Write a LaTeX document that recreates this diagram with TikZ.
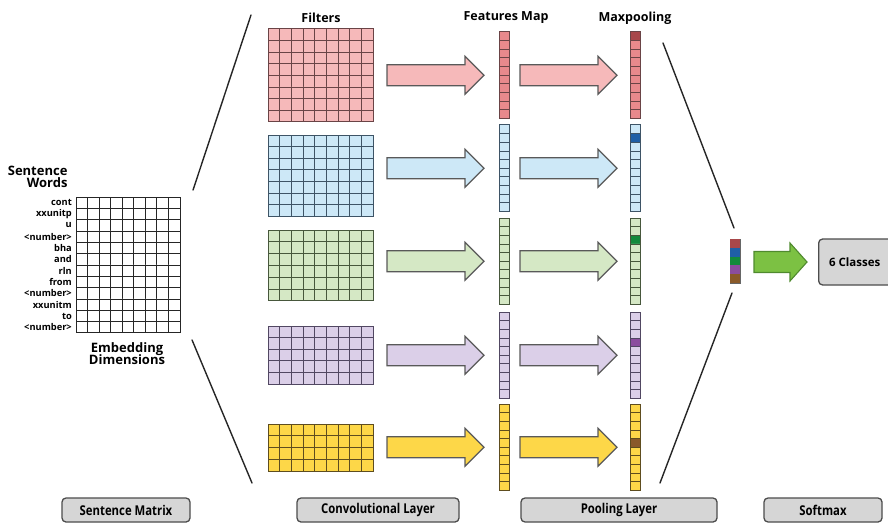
\documentclass[tikz,border=0pt]{standalone}
\usepackage{fontspec}
\setmainfont{Open Sans}
\newfontfamily\narrowsans[FakeStretch=0.84]{Open Sans}
\usetikzlibrary{calc}

% fills and line colours of the five filter groups
\definecolor{redfill}{HTML}{F6B9BA}
\definecolor{redmap}{HTML}{E8898C}
\definecolor{redline}{HTML}{6A4446}
\definecolor{redmax}{HTML}{A8474A}
\definecolor{bluefill}{HTML}{CDE8F7}
\definecolor{blueline}{HTML}{3E5466}
\definecolor{bluemax}{HTML}{1F5FA6}
\definecolor{greenfill}{HTML}{D5E8C5}
\definecolor{greenline}{HTML}{47573C}
\definecolor{greenmax}{HTML}{138A3C}
\definecolor{purplefill}{HTML}{DBCFE8}
\definecolor{purpleline}{HTML}{514762}
\definecolor{purplemax}{HTML}{8B4D9E}
\definecolor{yellowfill}{HTML}{FDD748}
\definecolor{yellowline}{HTML}{5E4D1F}
\definecolor{yellowmax}{HTML}{8A5A2A}
\definecolor{softgreen}{HTML}{7CC143}
\definecolor{softgreenline}{HTML}{4F8A2E}
\definecolor{boxgray}{HTML}{D6D6D6}

\tikzset{
  cellbox/.style={draw, rectangle, inner sep=0pt, outer sep=0pt, line width=1pt},
  cellline/.style={line width=0.9pt},
  redset/.style={fill=redfill, draw=redline},
  redmapset/.style={fill=redmap, draw=redline},
  blueset/.style={fill=bluefill, draw=blueline},
  greenset/.style={fill=greenfill, draw=greenline},
  purpleset/.style={fill=purplefill, draw=purpleline},
  yellowset/.style={fill=yellowfill, draw=yellowline},
  wordset/.style={fill=white, draw=black!85},
  funnel/.style={line width=1.4pt, draw=black!85, line cap=round},
  blockarrow/.style={line width=1.1pt, draw=black!65, line join=miter},
  title/.style={font=\bfseries\fontsize{12.5}{14}\selectfont},
  bigtitle/.style={font=\bfseries\fontsize{13}{15}\selectfont, align=right},
  wordlabel/.style={font=\bfseries\fontsize{9.3}{10}\selectfont, anchor=east, inner sep=0pt},
  layerbox/.style={draw=black!70, line width=1.3pt, fill=boxgray, rounded corners=4pt,
    minimum height=24pt, inner sep=0pt, font=\narrowsans\bfseries\fontsize{13.5}{15}\selectfont},
}

% grid of cells: name, x, y, cols, rows, cell width, cell height, style
\newcommand\cellblock[8]{%
  \node[cellbox, #8, anchor=north west, minimum width={#4*#6}, minimum height={#5*#7}] (#1) at (#2,#3) {};
  \pgfmathtruncatemacro\cbcols{#4-1}%
  \pgfmathtruncatemacro\cbrows{#5-1}%
  \foreach \ci in {1,...,\cbcols}
    \draw[cellline, #8] ($(#1.north west)+(\ci*#6,0)$) -- ($(#1.south west)+(\ci*#6,0)$);
  \foreach \ri in {1,...,\cbrows}
    \draw[cellline, #8] ($(#1.north west)+(0,\ri*#7)$) -- ($(#1.north east)+(0,\ri*#7)$);
  \draw[cellbox, #8, fill=none] (#1.north west) rectangle (#1.south east);
}

% single column of ten cells with one marked cell: name, x, y, style, marked index, marked colour
\newcommand\cellcolumn[6]{%
  \node[cellbox, #4, anchor=north west, minimum width=10, minimum height=86.5] (#1) at (#2,#3) {};
  \ifnum#5>-1
    \fill[#6] ($(#1.north west)+(0,#5*8.65)$) rectangle ++(10,8.65);
  \fi
  \foreach \ri in {1,...,9}
    \draw[cellline, #4] ($(#1.north west)+(0,\ri*8.65)$) -- ($(#1.north east)+(0,\ri*8.65)$);
  \draw[cellbox, #4, fill=none] (#1.north west) rectangle (#1.south east);
}

% block arrow from a start x to a tip x at height y: start, head base, tip, y, style
\newcommand\blockarrow[5]{%
  \draw[blockarrow, #5] (#1,{#4-10.5}) -- (#2,{#4-10.5}) -- (#2,{#4-19}) -- (#3,#4)
    -- (#2,{#4+19}) -- (#2,{#4+10.5}) -- (#1,{#4+10.5}) -- cycle;
}

\begin{document}
\begin{tikzpicture}[x=1pt, y=-1pt]
  \useasboundingbox (0,0) rectangle (888,524);
  \clip (0,0) rectangle (888,524);

  % sentence matrix
  \cellblock{sentence}{76}{197}{9}{12}{11.56}{11.33}{wordset}
  \node[bigtitle, anchor=east] (swords) at (71,177) {Sentence\\[-3pt]Words};
  \foreach \w [count=\k] in {cont,xxunitp,u,<number>,bha,and,rln,from,<number>,xxunitm,to,<number>}
    \node[wordlabel] (word\k) at (72,{197+11.33*(\k-0.5)}) {\w};
  \node[bigtitle, align=center] (embed) at (127,354) {Embedding\\[-3pt]Dimensions};

  % filters
  \node[title] (tfilters) at (321,18) {Filters};
  \cellblock{filt1}{268}{29}{9}{8}{11.67}{11.6}{redset}
  \cellblock{filt2}{268}{135}{9}{7}{11.67}{11.6}{blueset}
  \cellblock{filt3}{268}{230}{9}{6}{11.67}{11.8}{greenset}
  \cellblock{filt4}{268}{326}{9}{5}{11.67}{11.6}{purpleset}
  \cellblock{filt5}{268}{424}{9}{4}{11.67}{11.8}{yellowset}

  % feature maps
  \node[title] (tfeat) at (506,18) {Features Map};
  \cellcolumn{fmap1}{499}{32}{redmapset}{-1}{redmax}
  \cellcolumn{fmap2}{499}{125}{blueset}{-1}{bluemax}
  \cellcolumn{fmap3}{499}{218}{greenset}{-1}{greenmax}
  \cellcolumn{fmap4}{499}{312}{purpleset}{-1}{purplemax}
  \cellcolumn{fmap5}{499}{404}{yellowset}{-1}{yellowmax}

  % max pooling
  \node[title] (tmax) at (635,18) {Maxpooling};
  \cellcolumn{pool1}{630}{32}{redmapset}{0}{redmax}
  \cellcolumn{pool2}{630}{125}{blueset}{1}{bluemax}
  \cellcolumn{pool3}{630}{218}{greenset}{2}{greenmax}
  \cellcolumn{pool4}{630}{312}{purpleset}{3}{purplemax}
  \cellcolumn{pool5}{630}{404}{yellowset}{4}{yellowmax}

  % arrows filter -> feature map -> pooled map, level with each map
  \foreach \c/\cy in {redfill/75.25,bluefill/168.25,greenfill/261.25,purplefill/355.25,yellowfill/447.25}{
    \blockarrow{387}{465}{484}{\cy}{fill=\c}
    \blockarrow{520}{598}{617}{\cy}{fill=\c}
  }

  % concatenated vector
  \node[cellbox, draw=black!60, line width=0.6pt, anchor=north west, minimum width=10, minimum height=44] (vec) at (730,239) {};
  \foreach \k/\c in {0/redmax,1/bluemax,2/greenmax,3/purplemax,4/yellowmax}
    \fill[\c] ($(vec.north west)+(0,\k*8.8)$) rectangle ++(10,8.8);

  % funnel lines
  \coordinate (ftl) at (251,15);
  \coordinate (fbl) at (252,483);
  \coordinate (ftr) at (663,43);
  \coordinate (fbr) at (660,483);
  \draw[funnel] ($(sentence.north east)+(13,-7)$) -- (ftl);
  \draw[funnel] ($(sentence.south east)+(12,7)$) -- (fbl);
  \draw[funnel] (ftr) -- ($(vec.north)+(-1,-11)$);
  \draw[funnel] ($(vec.south)+(-3,10)$) -- (fbr);

  % softmax output
  \node[layerbox, font=\bfseries\fontsize{11.5}{13}\selectfont, minimum width=76, minimum height=46, anchor=west] (classes) at (818,262) {\hspace*{-4pt}6 Classes};
  \blockarrow{754}{790}{807}{262}{fill=softgreen, draw=softgreenline}

  % layer captions
  \node[layerbox, minimum width=128] (lsent) at (126,510) {Sentence Matrix};
  \node[layerbox, minimum width=162] (lconv) at (378,510) {Convolutional Layer};
  \node[layerbox, minimum width=196] (lpool) at (619,510) {Pooling Layer};
  \node[layerbox, minimum width=118] (lsoft) at (823,510) {Softmax};
\end{tikzpicture}
\end{document}
